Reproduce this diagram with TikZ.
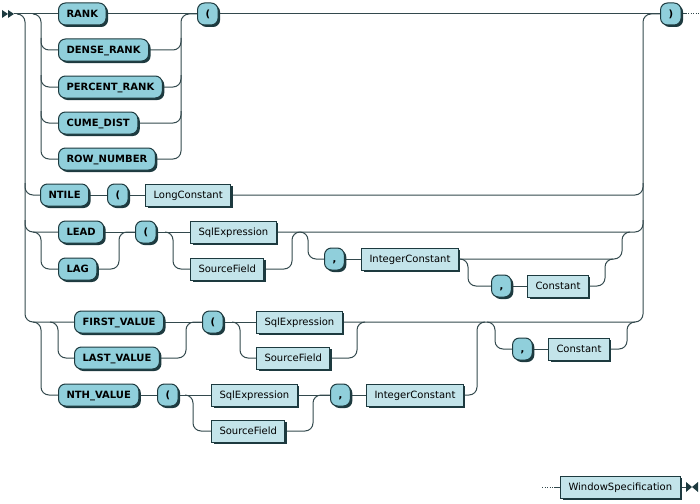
\documentclass[tikz,border=0pt]{standalone}
\usepackage{fontspec}
\setmainfont{DejaVu Sans}
\usetikzlibrary{shadows}
\definecolor{tfill}{HTML}{90CFDB}
\definecolor{nfill}{HTML}{C3E4EA}
\definecolor{edge}{HTML}{1D3A3F}
\definecolor{rail}{HTML}{33494D}
\pgfdeclarelayer{bg}
\pgfsetlayers{bg,main}
\begin{document}
\begin{tikzpicture}[x=1pt,y=-1pt,
 boxbase/.style={draw=edge, line width=1pt, minimum height=22pt, inner xsep=8pt, inner ysep=0pt,
   text height=8.5pt, text depth=1.2pt, anchor=west,
   drop shadow={shadow xshift=2pt, shadow yshift=-2pt, fill=edge, opacity=1}},
 term/.style={boxbase, fill=tfill, rounded corners=7pt, font=\fontsize{10pt}{12pt}\selectfont\bfseries},
 nonterm/.style={boxbase, fill=nfill, font=\fontsize{10pt}{12pt}\selectfont},
 rr/.style={draw=rail, line width=1pt, rounded corners=8pt},
 dotrail/.style={draw=rail, line width=1pt, dash pattern=on 1pt off 1.5pt},
]
\useasboundingbox (0,0) rectangle (700,503);

% markers
\fill[edge] (2,10) -- (8,14) -- (2,18) -- cycle;
\fill[edge] (8,10) -- (14,14) -- (8,18) -- cycle;
\coordinate (start) at (14,14);
\fill[edge] (686,482) -- (692,487) -- (686,492) -- cycle;
\fill[edge] (698,482) -- (692,487) -- (698,492) -- cycle;
\coordinate (endm) at (686,487);
\coordinate (contr) at (700,14);
\coordinate (contl) at (542,487);

% nodes
\node[term] (rank) at (58,14) {RANK};
\node[term] (dense) at (58,50) {DENSE\_RANK};
\node[term] (pct) at (58,87) {PERCENT\_RANK};
\node[term] (cume) at (58,123) {CUME\_DIST};
\node[term] (rown) at (58,159) {ROW\_NUMBER};
\node[term] (lp1) at (197,14) {(};
\node[term] (rp) at (660,14) {)};
\node[term] (ntile) at (40,195) {NTILE};
\node[term] (lp2) at (107,195) {(};
\node[nonterm] (lc) at (145,195) {LongConstant};
\node[term] (lead) at (58,232) {LEAD};
\node[term] (lag) at (58,269) {LAG};
\node[term] (lp3) at (135,232) {(};
\node[nonterm] (sql1) at (190,232) {SqlExpression};
\node[nonterm] (sf1) at (190,269) {SourceField};
\node[term] (c1) at (324,259) {,};
\node[nonterm] (ic1) at (361,259) {IntegerConstant};
\node[term] (c2) at (491,286) {,};
\node[nonterm] (k1) at (527,286) {Constant};
\node[term] (fv) at (74,322) {FIRST\_VALUE};
\node[term] (lv) at (74,358) {LAST\_VALUE};
\node[term] (lp4) at (202,322) {(};
\node[nonterm] (sql2) at (256,322) {SqlExpression};
\node[nonterm] (sf2) at (256,358) {SourceField};
\node[term] (nth) at (58,395) {NTH\_VALUE};
\node[term] (lp5) at (157,395) {(};
\node[nonterm] (sql3) at (211,395) {SqlExpression};
\node[nonterm] (sf3) at (211,431) {SourceField};
\node[term] (c3) at (330,395) {,};
\node[nonterm] (ic2) at (366,395) {IntegerConstant};
\node[term] (c4) at (512,349) {,};
\node[nonterm] (k2) at (548,349) {Constant};
\node[nonterm] (ws) at (560,487) {WindowSpecification};

\begin{pgfonlayer}{bg}
% main line
\draw[rr] (start) -- (rank.west);
\draw[rr] (rank.east) -- (lp1.west);
\draw[rr] (lp1.east) -- (rp.west);
\draw[rr] (rp.east) -- ++(4,0);
\draw[dotrail] ([xshift=4pt]rp.east) -- (contr);

% first choice
\draw[rr] (33,14) -- (41,14) -- (41,159) -- (rown.west);
\foreach \n/\y in {dense/50, pct/87, cume/123} {
  \draw[rr] (41,\y-12) -- (41,\y) -- (\n.west);
  \draw[rr] (\n.east) -- (181,\y) -- (181,\y-12);
}
\draw[rr] (rown.east) -- (181,159) -- (181,14) -- (lp1.west);

% outer choice
\draw[rr] (17,14) -- (25,14) -- (25,322) -- (fv.west);
\draw[rr] (25,183) -- (25,195) -- (ntile.west);
\draw[rr] (25,220) -- (25,232) -- (lead.west);
\draw[rr] (ntile.east) -- (lp2.west);
\draw[rr] (lp2.east) -- (lc.west);
\draw[rr] (lc.east) -- (643,195) -- (643,183);
\draw[rr] (sql1.east) -- (643,232) -- (643,220);
\draw[rr] (sql2.east) -- (643,322) -- (643,14) -- (rp.west);

% LEAD / LAG
\draw[rr] (33,232) -- (41,232) -- (41,269) -- (lag.west);
\draw[rr] (lead.east) -- (lp3.west);
\draw[rr] (lag.east) -- (119,269) -- (119,232) -- (lp3.west);
\draw[rr] (lp3.east) -- (sql1.west);
\draw[rr] (165,232) -- (173,232) -- (173,269) -- (sf1.west);
\draw[rr] (sf1.east) -- (292,269) -- (292,232) -- (300,232);
\draw[rr] (300,232) -- (308,232) -- (308,259) -- (c1.west);
\draw[rr] (c1.east) -- (ic1.west);
\draw[rr] (ic1.east) -- (622,259) -- (622,232) -- (630,232);
\draw[rr] (460,259) -- (468,259) -- (468,286) -- (c2.west);
\draw[rr] (c2.east) -- (k1.west);
\draw[rr] (k1.east) -- (605,286) -- (605,259) -- (613,259);

% FIRST_VALUE / LAST_VALUE / NTH_VALUE
\draw[rr] (33,322) -- (41,322) -- (41,395) -- (nth.west);
\draw[rr] (50,322) -- (58,322) -- (58,358) -- (lv.west);
\draw[rr] (fv.east) -- (lp4.west);
\draw[rr] (lv.east) -- (186,358) -- (186,322) -- (lp4.west);
\draw[rr] (lp4.east) -- (sql2.west);
\draw[rr] (232,322) -- (240,322) -- (240,358) -- (sf2.west);
\draw[rr] (sf2.east) -- (357,358) -- (357,322) -- (365,322);
\draw[rr] (nth.east) -- (lp5.west);
\draw[rr] (lp5.east) -- (sql3.west);
\draw[rr] (185,395) -- (193,395) -- (193,431) -- (sf3.west);
\draw[rr] (sf3.east) -- (313,431) -- (313,395) -- (c3.west);
\draw[rr] (sql3.east) -- (c3.west);
\draw[rr] (c3.east) -- (ic2.west);
\draw[rr] (ic2.east) -- (477,395) -- (477,322) -- (485,322);
\draw[rr] (487,322) -- (495,322) -- (495,349) -- (c4.west);
\draw[rr] (c4.east) -- (k2.west);
\draw[rr] (k2.east) -- (627,349) -- (627,322) -- (635,322);

% bottom line
\draw[dotrail] (contl) -- (554,487);
\draw[rr] (554,487) -- (ws.west);
\draw[rr] (ws.east) -- (endm);
\end{pgfonlayer}
\end{tikzpicture}
\end{document}
